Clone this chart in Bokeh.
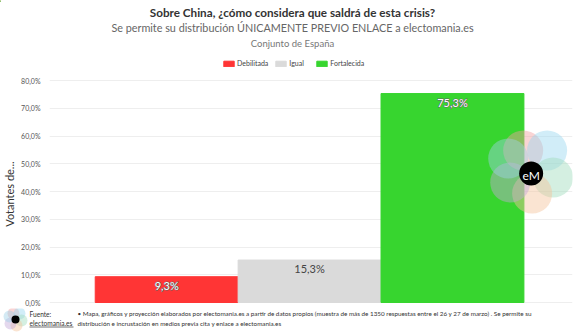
from bokeh.plotting import figure
from bokeh.layouts import column
from bokeh.models import Range1d, Legend, LegendItem, ColumnDataSource, FixedTicker
from bokeh.core.properties import value
from bokeh.embed import file_html
from bokeh.resources import INLINE

categories = ["Debilitada", "Igual", "Fortalecida"]
values = [9.3, 15.3, 75.3]
colors = ["#ff3535", "#dadada", "#37d52f"]
bar_labels = ["9,3%", "15,3%", "75,3%"]
label_colors = ["#ffffff", "#444444", "#ffffff"]
y_ticks = [0, 10, 20, 30, 40, 50, 60, 70, 80]
y_tick_labels = ["0,0%", "10,0%", "20,0%", "30,0%", "40,0%", "50,0%", "60,0%", "70,0%", "80,0%"]

FONT = "Lato"
W = 580
H_HEAD = 75          # header strip: titles + legend
FRAME_TOP, FRAME_BOT, ZERO_Y = 79, 308, 302
H_MAIN = FRAME_BOT - H_HEAD
H_FOOT = 335 - FRAME_BOT
FL = 48
PX_PER_UNIT = 2.775


def blank(height):
    fig = figure(width=W, height=height, output_backend="svg", toolbar_location=None,
                 x_range=Range1d(0, W), y_range=Range1d(height, 0),
                 min_border_left=0, min_border_right=0, min_border_top=0, min_border_bottom=0)
    fig.axis.visible = False
    fig.grid.visible = False
    fig.outline_line_color = None
    fig.frame_align = False
    return fig


# ---------------- header ----------------
h = blank(H_HEAD)
h.text(x=[292], y=[11], text=["Sobre China, ¿cómo considera que saldrá de esta crisis?"],
       text_font=value(FONT), text_font_size="11.7px", text_font_style="bold", text_color="#333333",
       text_align="center", text_baseline="middle")
h.text(x=[292], y=[27], text=["Se permite su distribución ÚNICAMENTE PREVIO ENLACE a electomania.es"],
       text_font=value(FONT), text_font_size="10.8px", text_color="#666666",
       text_align="center", text_baseline="middle")
h.text(x=[292], y=[43], text=["Conjunto de España"],
       text_font=value(FONT), text_font_size="9.5px", text_color="#777777",
       text_align="center", text_baseline="middle")
items = []
for c, col in zip(categories, colors):
    # swatch renderers sit outside the visible range; only their legend entries show
    r = h.vbar(x=[-1000], top=[1], width=1, fill_color=col, line_color=col)
    items.append(LegendItem(label=c, renderers=[r], index=0))
legend = Legend(items=items, orientation="horizontal", location=(222, H_HEAD - 67),
                label_text_font=FONT, label_text_font_size="7px", label_text_color="#444444",
                glyph_width=13, glyph_height=7, label_standoff=2, spacing=6,
                padding=1, margin=0, border_line_color=None, background_fill_alpha=0)
h.add_layout(legend, "center")

# ---------------- main chart ----------------
p = figure(width=W, height=H_MAIN, output_backend="svg", toolbar_location=None,
           x_range=Range1d(-0.82, 2.84),
           y_range=Range1d(-(FRAME_BOT - ZERO_Y) / PX_PER_UNIT, (ZERO_Y - FRAME_TOP) / PX_PER_UNIT),
           min_border_left=FL, min_border_right=8, min_border_top=FRAME_TOP - H_HEAD,
           min_border_bottom=0)
p.frame_align = False
p.outline_line_color = None
p.xaxis.visible = False
p.xgrid.visible = False
p.ygrid.grid_line_color = "#eeeeee"
p.yaxis.axis_line_color = None
p.yaxis.major_tick_line_color = None
p.yaxis.minor_tick_line_color = None
p.yaxis.ticker = FixedTicker(ticks=y_ticks)
p.yaxis.major_label_overrides = {t: l for t, l in zip(y_ticks, y_tick_labels)}
p.yaxis.major_label_text_font = FONT
p.yaxis.major_label_text_font_size = "7px"
p.yaxis.major_label_text_color = "#555555"
p.yaxis.major_label_standoff = 3
p.yaxis.axis_label = "Votantes de..."
p.yaxis.axis_label_text_font = FONT
p.yaxis.axis_label_text_font_style = "normal"
p.yaxis.axis_label_text_font_size = "11px"
p.yaxis.axis_label_text_color = "#333333"
p.yaxis.axis_label_standoff = 2

xs = list(range(len(categories)))
for i in xs:
    p.vbar(x=[xs[i]], top=[values[i]], width=1.0, fill_color=colors[i], line_color=colors[i])

src = ColumnDataSource(dict(x=xs, lab=bar_labels, ly=[v - 3.1 for v in values], tc=label_colors))
halo = ColumnDataSource(dict(x=[xs[0], xs[2]], ly=[values[0] - 3.1, values[2] - 3.1],
                             lab=[bar_labels[0], bar_labels[2]]))
p.text(x="x", y="ly", text="lab", source=halo, text_align="center", text_baseline="middle",
       text_font=value(FONT), text_font_size="11px", text_color="#666666",
       text_outline_color="#666666")
p.text(x="x", y="ly", text="lab", source=src, text_align="center", text_baseline="middle",
       text_font=value(FONT), text_font_size="11px", text_color="tc")

# watermark logo (decorative)
def dx(px):
    return -0.82 + (px - FL) / 143.3
def dy(py):
    return (ZERO_Y - py) / PX_PER_UNIT
logo_c = ["#f2a0a0", "#9ad6f0", "#a0dcbc", "#f5c39c", "#c4a8d8", "#9fd0e6"]
p.scatter(x=[dx(523), dx(547), dx(553), dx(532), dx(510), dx(508)],
          y=[dy(150), dy(150), dy(177), dy(193), dy(182), dy(158)],
          size=40, marker="circle", fill_color=logo_c, fill_alpha=0.45, line_color=None)
p.scatter(x=[dx(531)], y=[dy(173)], size=24, marker="circle", fill_color="black", line_color=None)
p.text(x=[dx(531)], y=[dy(175)], text=["eM"], text_color="white", text_font=value(FONT),
       text_font_size="12px", text_align="center", text_baseline="middle")

# ---------------- footer ----------------
f = blank(H_FOOT)
fy = lambda py: py - FRAME_BOT
f.scatter(x=[13, 19, 21, 16, 10, 9], y=[fy(313), fy(313), fy(320), fy(325), fy(323), fy(316)],
          size=12, marker="circle", fill_color=logo_c, fill_alpha=0.45, line_color=None)
f.scatter(x=[15], y=[fy(319)], size=8, marker="circle", fill_color="black", line_color=None)
f.text(x=[29, 29], y=[fy(313), fy(322.5)], text=["Fuente:", "electomania.es"],
       text_font=value(FONT), text_font_size="6.6px", text_color="#333333",
       text_align="left", text_baseline="middle")
f.segment(x0=[29], y0=[fy(326.5)], x1=[73], y1=[fy(326.5)], line_color="#333333", line_width=0.7)
f.text(x=[77, 77], y=[fy(313), fy(322.5)],
       text=["• Mapa, gráficos y proyección elaborados por electomania.es a partir de datos propios (muestra de más de 1350 respuestas entre el 26 y 27 de marzo) . Se permite su",
             "distribución e incrustación en medios previa cita y enlace a electomania.es"],
       text_font=value(FONT), text_font_size="6.3px", text_color="#333333",
       text_align="left", text_baseline="middle")

layout = column(h, p, f, spacing=0)
open("out.html", "w").write(file_html(layout, INLINE))
